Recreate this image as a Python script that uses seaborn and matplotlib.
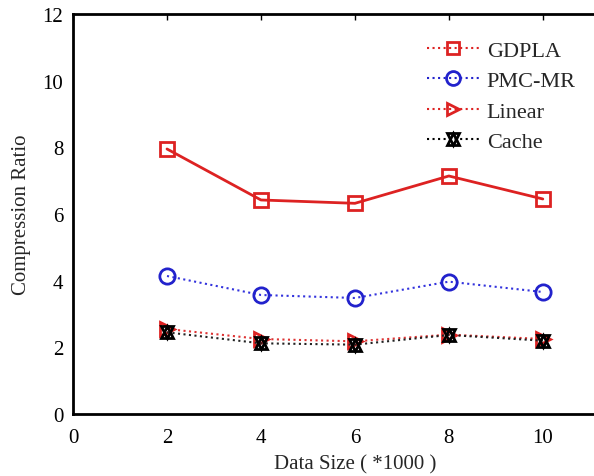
import pandas as pd
import matplotlib
matplotlib.use("Agg")
import matplotlib.pyplot as plt
import seaborn as sns
from matplotlib.lines import Line2D

data_size = [2, 4, 6, 8, 10]
gdpla = [7.95, 6.42, 6.32, 7.14, 6.45]
pmc_mr = [4.14, 3.57, 3.48, 3.97, 3.66]
linear = [2.55, 2.25, 2.18, 2.38, 2.25]
cache = [2.45, 2.12, 2.08, 2.37, 2.2]

sns.set_style("white")
plt.rcParams["font.family"] = ["Liberation Serif", "DejaVu Serif"]

df = pd.DataFrame({"size": data_size, "GDPLA": gdpla, "PMC-MR": pmc_mr,
                   "Linear": linear, "Cache": cache})

fig = plt.figure(figsize=(5.94, 4.77), dpi=100)
ax = fig.add_axes([0.123, 0.13, 0.949, 0.8386])

# GDPLA drawn solid in the plot, dotted in the legend
sns.lineplot(data=df, x="size", y="GDPLA", ax=ax, color="#dd2222", lw=2,
             marker="s", markersize=10, markerfacecolor="none",
             markeredgecolor="#dd2222", markeredgewidth=2)
sns.lineplot(data=df, x="size", y="PMC-MR", ax=ax, color="#3333dd", lw=1.5,
             linestyle=":", marker="o", markersize=11, markerfacecolor="none",
             markeredgecolor="#2222cc", markeredgewidth=2)
sns.lineplot(data=df, x="size", y="Linear", ax=ax, color="#dd3333", lw=1.5,
             linestyle=":", marker=">", markersize=10, markerfacecolor="none",
             markeredgecolor="#dd2222", markeredgewidth=2)
sns.lineplot(data=df, x="size", y="Cache", ax=ax, color="#222222", lw=1.5,
             linestyle=":", marker="^", markersize=9, markerfacecolor="none",
             markeredgecolor="black", markeredgewidth=2)
sns.lineplot(data=df, x="size", y="Cache", ax=ax, lw=0, marker="v",
             markersize=9, markerfacecolor="none", markeredgecolor="black",
             markeredgewidth=2)

ax.set_xlim(0, 12)
ax.set_ylim(0, 12)
ax.set_xticks([0, 2, 4, 6, 8, 10])
ax.set_yticks([0, 2, 4, 6, 8, 10, 12])
ax.tick_params(direction="in", length=4, width=1, labelsize=15,
               top=True, right=True, colors="black")
ax.tick_params(axis="x", pad=10)
ax.tick_params(axis="y", pad=7)
for s in ax.spines.values():
    s.set_linewidth(2)
    s.set_color("black")
ax.set_xlabel("Data Size ( *1000 )", fontsize=15, labelpad=5)
ax.set_ylabel("Compression Ratio", fontsize=15, labelpad=8)

def handle(color, marker, ms, ls=":"):
    return Line2D([], [], color=color, lw=1.5, linestyle=ls, marker=marker,
                  markersize=ms, markerfacecolor="none",
                  markeredgecolor=color, markeredgewidth=2)

cache_h = (handle("black", "^", 8), Line2D([], [], lw=0, marker="v",
           markersize=8, markerfacecolor="none", markeredgecolor="black",
           markeredgewidth=2))
handles = [handle("#dd2222", "s", 9), handle("#2222cc", "o", 10),
           handle("#dd2222", ">", 9), cache_h]
ax.legend(handles, ["GDPLA", "PMC-MR", "Linear", "Cache"], frameon=False,
          fontsize=16, loc="upper left", bbox_to_anchor=(0.592, 0.985),
          handlelength=2.4, handletextpad=0.3, labelspacing=0.45)

fig.savefig("out.png", dpi=100)
